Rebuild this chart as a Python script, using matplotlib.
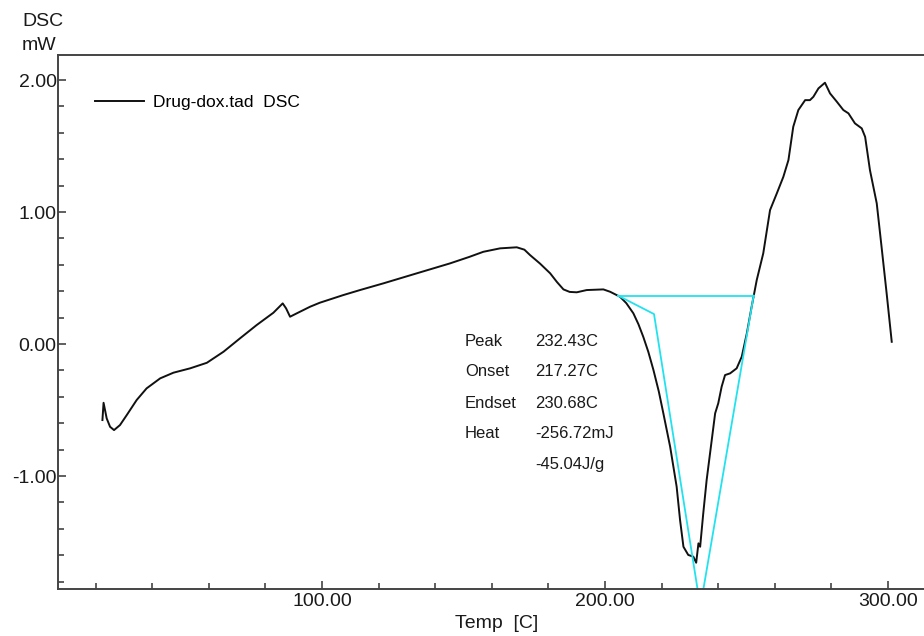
import numpy as np
import matplotlib
matplotlib.use('Agg')
from matplotlib import pyplot as plt
from matplotlib.ticker import MultipleLocator, FormatStrFormatter

plt.rcParams['font.family'] = ['Liberation Sans', 'DejaVu Sans']
plt.rcParams['axes.unicode_minus'] = False

# DSC trace (Temp [C], DSC [mW])
temp = [22.4, 22.8, 23.9, 25.1, 26.5, 28.6, 31.0, 34.5, 38.0, 42.8,
        47.5, 53.4, 59.3, 65.2, 71.0, 76.9, 82.8, 86.1, 87.3, 88.7,
        91.1, 95.8, 99.2, 107.5, 113.4, 121.7, 133.5, 145.2, 152.0, 157.0,
        162.9, 168.8, 171.5, 173.5, 177.0, 180.6, 183.0, 185.3, 187.5, 190.0,
        193.5, 199.4, 201.8, 205.3, 207.5, 210.0, 211.8, 213.5, 215.3, 217.1,
        219.0, 220.6, 223.0, 225.3, 226.5, 227.7, 229.4, 231.2, 232.2, 233.0,
        233.6, 234.7, 235.9, 237.7, 238.9, 240.0, 241.2, 242.4, 244.2, 246.5,
        248.3, 250.1, 251.8, 253.6, 255.9, 258.3, 260.7, 263.0, 264.8, 266.5,
        268.3, 270.7, 272.4, 273.6, 275.4, 277.7, 279.5, 281.9, 284.2, 286.0,
        288.3, 290.7, 291.9, 293.6, 296.0, 297.7, 299.5, 301.3]
dsc = [-0.576, -0.445, -0.563, -0.627, -0.652, -0.614, -0.538, -0.424, -0.336, -0.260,
       -0.217, -0.184, -0.142, -0.058, 0.043, 0.144, 0.237, 0.308, 0.270, 0.207,
       0.233, 0.283, 0.313, 0.371, 0.409, 0.460, 0.536, 0.611, 0.660, 0.699,
       0.725, 0.733, 0.715, 0.674, 0.610, 0.536, 0.470, 0.414, 0.395, 0.392,
       0.409, 0.414, 0.396, 0.358, 0.310, 0.233, 0.150, 0.055, -0.060, -0.197,
       -0.360, -0.525, -0.778, -1.081, -1.333, -1.536, -1.598, -1.611, -1.657, -1.510,
       -1.536, -1.283, -1.030, -0.727, -0.525, -0.449, -0.323, -0.235, -0.222, -0.184,
       -0.096, 0.081, 0.283, 0.485, 0.687, 1.015, 1.142, 1.267, 1.394, 1.646,
       1.773, 1.848, 1.848, 1.873, 1.937, 1.980, 1.899, 1.836, 1.773, 1.748,
       1.672, 1.634, 1.570, 1.318, 1.066, 0.737, 0.384, 0.017]

# analysis construction lines
base_x = [204.6, 252.5]
base_y = [0.367, 0.367]
onset_x = [204.6, 217.3, 233.0]
onset_y = [0.367, 0.227, -1.90]
end_x = [252.5, 234.4]
end_y = [0.367, -1.90]

labels = ['Peak', 'Onset', 'Endset', 'Heat', '']
values = ['232.43C', '217.27C', '230.68C', '-256.72mJ', '-45.04J/g']

W, H = 924, 636
fig = plt.figure(figsize=(W / 100, H / 100), dpi=100)
ax = fig.add_axes([58 / W, 47 / H, (W - 58) / W, (589 - 55) / H])

txt = '#1a1a1a'
cyan = '#22e2ee'

ax.plot(temp, dsc, color='#111111', lw=1.4, label='Drug-dox.tad  DSC',
        solid_joinstyle='round')
ax.plot(base_x, base_y, color=cyan, lw=1.3)
ax.plot(onset_x, onset_y, color=cyan, lw=1.3)
ax.plot(end_x, end_y, color=cyan, lw=1.3)

ax.set_xlim(6.7, 312.7)
ax.set_ylim(-1.856, 2.19)

ax.xaxis.set_major_locator(MultipleLocator(100))
ax.xaxis.set_minor_locator(MultipleLocator(20))
ax.yaxis.set_major_locator(MultipleLocator(1))
ax.yaxis.set_minor_locator(MultipleLocator(0.2))
ax.xaxis.set_major_formatter(FormatStrFormatter('%.2f'))
ax.yaxis.set_major_formatter(FormatStrFormatter('%.2f'))

ax.tick_params(which='both', direction='in', colors='#444444', width=1.2,
               labelcolor=txt, labelsize=14)
ax.tick_params(which='major', length=6)
ax.tick_params(which='minor', length=4)
ax.tick_params(axis='y', pad=1)
ax.tick_params(axis='x', pad=3)

for s in ['left', 'bottom', 'top']:
    ax.spines[s].set_color('#444444')
    ax.spines[s].set_linewidth(1.4)
ax.spines['right'].set_visible(False)

ax.legend(loc='center left', bbox_to_anchor=(95 / W, 1 - 102 / H),
          bbox_transform=fig.transFigure, frameon=False, fontsize=12.5,
          handlelength=2.85, handletextpad=0.5, borderpad=0, borderaxespad=0)

for i in range(len(labels)):
    yy = 1 - (341 + i * 31) / H
    fig.text(465 / W, yy, labels[i], fontsize=12, color=txt, va='center')
    fig.text(535 / W, yy, values[i], fontsize=12, color=txt, va='center')

fig.text(22 / W, 1 - 22 / H, 'DSC', fontsize=14, color=txt, va='center')
fig.text(22 / W, 1 - 46 / H, 'mW', fontsize=14, color=txt, va='center')
fig.text(497 / W, 1 - 624 / H, 'Temp  [C]', fontsize=14, color=txt,
         ha='center', va='center')

fig.savefig('out.png', dpi=100)
